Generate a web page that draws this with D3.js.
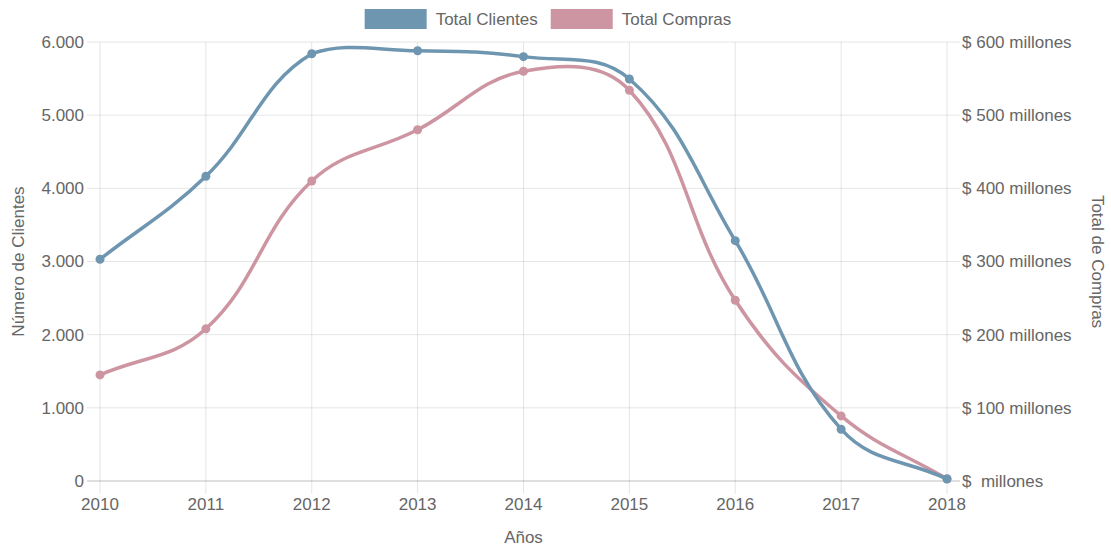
<!DOCTYPE html>
<html>
<head>
<meta charset="utf-8">
<script src="https://cdn.jsdelivr.net/npm/d3@7"></script>
<style>
  body { margin: 0; background: #fff; }
  svg { font-family: "Liberation Sans", Arial, sans-serif; }
  text { fill: #666; }
</style>
</head>
<body>
<div id="chart"></div>
<script>
// Data
var years = ["2010", "2011", "2012", "2013", "2014", "2015", "2016", "2017", "2018"];
var clientes = [3030, 4165, 5840, 5880, 5800, 5495, 3285, 708, 28];
var compras = [145, 208, 410, 480, 560, 534, 247, 89, 3]; // millones
var leftTicks = [0, 1000, 2000, 3000, 4000, 5000, 6000];
var rightTicks = [0, 100, 200, 300, 400, 500, 600];

// Chart dimensions
var width = 1111, height = 547;
var area = {left: 100, right: 947, top: 42, bottom: 481};

var blue = "#6e96b1", pink = "#cd95a1";
var grid = "rgba(0,0,0,0.1)";

var es = d3.formatLocale({decimal: ",", thousands: ".", grouping: [3], currency: ["$", ""]});
var fmt = es.format(",d");

var x_scale = d3.scalePoint().domain(years).range([area.left, area.right]);
var y_left = d3.scaleLinear().domain([0, 6000]).range([area.bottom, area.top]);
var y_right = d3.scaleLinear().domain([0, 600]).range([area.bottom, area.top]);

var svg = d3.select("#chart").append("svg")
    .attr("width", width)
    .attr("height", height);

// Gridlines
svg.append("g").selectAll("line.v")
    .data(years).enter().append("line")
    .attr("x1", function(d) { return x_scale(d); })
    .attr("x2", function(d) { return x_scale(d); })
    .attr("y1", area.top)
    .attr("y2", area.bottom + 13)
    .attr("stroke", grid);

svg.append("g").selectAll("line.h")
    .data(leftTicks.slice(1)).enter().append("line")
    .attr("x1", area.left - 13)
    .attr("x2", area.right + 13)
    .attr("y1", function(d) { return y_left(d); })
    .attr("y2", function(d) { return y_left(d); })
    .attr("stroke", grid);

// zero line
svg.append("line")
    .attr("x1", area.left - 13).attr("x2", area.right + 13)
    .attr("y1", y_left(0)).attr("y2", y_left(0))
    .attr("stroke", "rgba(0,0,0,0.25)");

// Axis labels
svg.append("g").selectAll("text")
    .data(leftTicks).enter().append("text")
    .attr("x", area.left - 16)
    .attr("y", function(d) { return y_left(d); })
    .attr("dy", "0.35em")
    .attr("text-anchor", "end")
    .style("font-size", "17px")
    .text(function(d) { return fmt(d); });

svg.append("g").selectAll("text")
    .data(rightTicks).enter().append("text")
    .attr("x", area.right + 15)
    .attr("y", function(d) { return y_right(d); })
    .attr("dy", "0.35em")
    .style("font-size", "17px")
    .style("white-space", "pre")
    .text(function(d) { return "$ " + (d === 0 ? "" : d) + " millones"; });

svg.append("g").selectAll("text")
    .data(years).enter().append("text")
    .attr("x", function(d) { return x_scale(d); })
    .attr("y", area.bottom + 29)
    .attr("text-anchor", "middle")
    .style("font-size", "17px")
    .text(function(d) { return d; });

// Axis titles
svg.append("text")
    .attr("x", (area.left + area.right) / 2)
    .attr("y", 543)
    .attr("text-anchor", "middle")
    .style("font-size", "17px")
    .text("Años");

svg.append("text")
    .attr("transform", "translate(24," + (area.top + area.bottom) / 2 + ") rotate(-90)")
    .attr("text-anchor", "middle")
    .style("font-size", "17px")
    .text("Número de Clientes");

svg.append("text")
    .attr("transform", "translate(1092," + (area.top + area.bottom) / 2 + ") rotate(90)")
    .attr("text-anchor", "middle")
    .style("font-size", "17px")
    .text("Total de Compras");

// Chart.js style spline (tension 0.4, control points capped to the chart area)
function splinePath(pts) {
    var t = 0.4, cps = [];
    pts.forEach(function(p, i) {
        var prev = pts[i - 1] || p, next = pts[i + 1] || p;
        var d01 = Math.hypot(p[0] - prev[0], p[1] - prev[1]);
        var d12 = Math.hypot(next[0] - p[0], next[1] - p[1]);
        var s01 = d01 / (d01 + d12) || 0, s12 = d12 / (d01 + d12) || 0;
        var fa = t * s01, fb = t * s12;
        var cap = function(c) {
            return [Math.max(area.left, Math.min(area.right, c[0])),
                    Math.max(area.top, Math.min(area.bottom, c[1]))];
        };
        cps.push({
            prev: cap([p[0] - fa * (next[0] - prev[0]), p[1] - fa * (next[1] - prev[1])]),
            next: cap([p[0] + fb * (next[0] - prev[0]), p[1] + fb * (next[1] - prev[1])])
        });
    });
    var path = d3.path();
    path.moveTo(pts[0][0], pts[0][1]);
    for (var i = 1; i < pts.length; i++) {
        path.bezierCurveTo(cps[i - 1].next[0], cps[i - 1].next[1],
            cps[i].prev[0], cps[i].prev[1], pts[i][0], pts[i][1]);
    }
    return path.toString();
}

function drawSeries(values, scale, color) {
    var pts = values.map(function(v, i) { return [x_scale(years[i]), scale(v)]; });
    svg.append("path")
        .attr("d", splinePath(pts))
        .attr("fill", "none")
        .attr("stroke", color)
        .attr("stroke-width", 3.5);
    svg.append("g").selectAll("circle")
        .data(pts).enter().append("circle")
        .attr("cx", function(d) { return d[0]; })
        .attr("cy", function(d) { return d[1]; })
        .attr("r", 4.5)
        .attr("fill", color);
}

drawSeries(compras, y_right, pink);
drawSeries(clientes, y_left, blue);

// Legend
var legendItems = [{label: "Total Clientes", color: blue}, {label: "Total Compras", color: pink}];
var legend = svg.append("g");
var xPos = 0;
legendItems.forEach(function(item) {
    var g = legend.append("g").attr("transform", "translate(" + xPos + ",0)");
    g.append("rect")
        .attr("x", 0).attr("y", 9)
        .attr("width", 62).attr("height", 20)
        .attr("fill", item.color);
    var txt = g.append("text")
        .attr("x", 71).attr("y", 19)
        .attr("dy", "0.35em")
        .style("font-size", "17px")
        .text(item.label);
    xPos += 71 + txt.node().getComputedTextLength() + 13;
});
var legendWidth = xPos - 13;
legend.attr("transform", "translate(" + (548 - legendWidth / 2) + ",0)");
</script>
</body>
</html>
